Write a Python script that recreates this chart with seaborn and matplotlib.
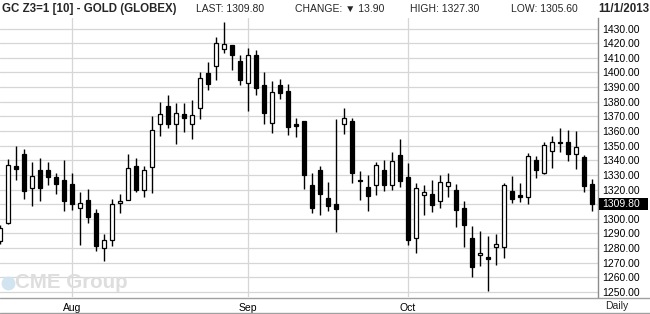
import numpy as np
import pandas as pd
import matplotlib
matplotlib.use("Agg")
import matplotlib.pyplot as plt
import matplotlib.transforms as mtransforms
from matplotlib.patches import Rectangle
from matplotlib.lines import Line2D
import seaborn as sns

# ---------------- data (GC Z3 daily, Jul 19 - Nov 1 2013) ----------------
dates = pd.bdate_range("2013-07-19", "2013-11-01")
dates = dates[dates != pd.Timestamp("2013-09-02")]  # Labor Day

opens = [1285.0, 1296.9, 1336.0, 1344.2, 1320.8, 1333.7, 1333.7, 1328.5, 1326.5, 1323.7,
         1307.1, 1312.8, 1303.9, 1280.3, 1285.3, 1310.5, 1313.2, 1335.8, 1319.4, 1335.1,
         1365.1, 1377.4, 1364.5, 1371.3, 1365.1, 1375.4, 1399.5, 1404.1, 1415.7, 1418.6,
         1407.7, 1393.1, 1411.8, 1391.3, 1365.8, 1391.3, 1387.2, 1364.5, 1366.7, 1323.0,
         1333.7, 1314.2, 1310.1, 1364.5, 1366.7, 1326.6, 1321.7, 1322.8, 1333.3, 1322.8,
         1343.5, 1328.5, 1286.6, 1316.0, 1317.3, 1311.9, 1322.4, 1319.4, 1307.1, 1286.6,
         1275.0, 1273.7, 1280.9, 1280.9, 1318.9, 1316.2, 1314.6, 1339.9, 1331.2, 1346.0,
         1352.8, 1352.8, 1344.0, 1342.2, 1323.7]
highs = [1296.0, 1340.6, 1349.7, 1347.6, 1338.5, 1341.5, 1339.0, 1331.0, 1340.1, 1331.2,
         1318.3, 1320.3, 1306.6, 1289.6, 1313.7, 1317.1, 1344.0, 1341.5, 1336.2, 1370.1,
         1379.7, 1384.3, 1379.0, 1379.0, 1381.5, 1400.0, 1406.8, 1424.1, 1434.3, 1418.8,
         1411.8, 1416.6, 1415.2, 1400.2, 1394.0, 1395.4, 1392.0, 1368.8, 1366.9, 1331.2,
         1336.2, 1325.1, 1368.1, 1375.6, 1368.8, 1332.6, 1329.9, 1338.7, 1340.1, 1345.6,
         1354.7, 1338.1, 1324.4, 1323.3, 1326.2, 1329.9, 1331.0, 1323.7, 1312.1, 1294.8,
         1291.9, 1288.2, 1289.6, 1324.4, 1329.2, 1324.6, 1344.9, 1342.8, 1352.4, 1356.5,
         1362.0, 1360.8, 1359.9, 1343.5, 1327.3]
lows = [1283.0, 1296.5, 1326.5, 1313.5, 1308.9, 1312.3, 1323.3, 1317.3, 1305.5, 1306.2,
        1282.3, 1296.9, 1278.2, 1271.4, 1281.6, 1304.1, 1313.0, 1318.0, 1315.1, 1317.8,
        1356.7, 1362.2, 1351.3, 1359.0, 1354.7, 1367.9, 1387.9, 1395.0, 1413.6, 1401.8,
        1391.5, 1374.0, 1384.7, 1364.9, 1358.8, 1382.0, 1357.4, 1356.0, 1320.5, 1304.1,
        1302.8, 1305.5, 1291.2, 1358.1, 1324.6, 1313.0, 1305.5, 1316.4, 1319.2, 1319.9,
        1321.9, 1282.3, 1277.0, 1302.3, 1304.8, 1307.6, 1315.1, 1294.6, 1280.9, 1260.0,
        1268.0, 1250.9, 1268.6, 1273.4, 1311.0, 1311.7, 1309.8, 1328.0, 1330.3, 1334.9,
        1345.8, 1339.6, 1334.2, 1318.5, 1305.6]
closes = [1294.0, 1337.1, 1334.2, 1319.2, 1329.6, 1321.2, 1328.7, 1323.9, 1312.3, 1310.3,
          1310.7, 1301.4, 1281.6, 1285.3, 1309.8, 1312.3, 1334.4, 1319.8, 1333.7, 1361.0,
          1371.3, 1365.1, 1372.6, 1369.2, 1370.6, 1395.9, 1392.4, 1420.4, 1419.1, 1412.0,
          1394.7, 1412.2, 1389.5, 1372.4, 1386.5, 1386.1, 1362.9, 1363.1, 1330.1, 1307.6,
          1317.1, 1308.9, 1306.9, 1369.2, 1331.5, 1326.0, 1315.8, 1336.5, 1323.3, 1339.4,
          1326.0, 1285.3, 1320.8, 1318.0, 1309.2, 1325.5, 1324.9, 1306.2, 1296.0, 1267.3,
          1276.6, 1272.7, 1282.5, 1322.8, 1313.7, 1315.1, 1342.6, 1333.5, 1350.1, 1352.8,
          1351.5, 1344.4, 1349.4, 1322.6, 1309.8]

month_labels = ["Aug", "Sep", "Oct"]
price_ticks = list(range(1250, 1431, 10))
last_price = 1309.80
header_left = "GC Z3=1 [10] - GOLD (GLOBEX)"
header_items = ["LAST: 1309.80", "CHANGE: \u25bc 13.90", "HIGH: 1327.30", "LOW: 1305.60"]
header_date = "11/1/2013"

# ---------------- style ----------------
sns.set_style("white")
plt.rcParams["font.family"] = ["Liberation Sans", "DejaVu Sans"]

df = pd.DataFrame({"date": dates, "open": opens, "high": highs,
                   "low": lows, "close": closes})
df["pos"] = np.arange(len(df))
df["up"] = df["close"] >= df["open"]
df["bottom"] = df[["open", "close"]].min(axis=1)
df["height"] = (df["close"] - df["open"]).abs().clip(lower=0.5)

W, H = 650, 314
fig = plt.figure(figsize=(W / 100, H / 100), dpi=100)
ax = fig.add_axes([0, 1 - 297 / H, 598 / W, (297 - 18) / H])

grid_c = "#d6d6d6"
# wicks
ax.vlines(df["pos"], df["low"], df["high"], color="black", lw=1.0, zorder=3)
# bodies
ax.bar(df["pos"], df["height"], bottom=df["bottom"], width=0.62,
       color=np.where(df["up"], "white", "black"), edgecolor="black",
       linewidth=0.9, zorder=4)

ax.set_xlim(0, 74.75)
ax.set_ylim(1246.6, 1437.2)

# month gridlines at first trading day of each month
first_pos = df.groupby(df["date"].dt.strftime("%b"))["pos"].min()
month_pos = [int(first_pos[m]) for m in month_labels]
ax.set_xticks(month_pos)
ax.set_xticklabels(month_labels)
ax.set_yticks(price_ticks)
ax.set_yticklabels(["" if t == 1310 else f"{t:.2f}" for t in price_ticks])
ax.yaxis.tick_right()
ax.tick_params(axis="y", length=0, pad=3, labelsize=7.5, colors="black")
ax.tick_params(axis="x", length=0, pad=4, labelsize=7.5, colors="black")
ax.grid(True, color=grid_c, lw=0.9, zorder=0)
ax.set_axisbelow(True)
for s in ["top", "left", "bottom"]:
    ax.spines[s].set_visible(False)
ax.spines["right"].set_color("#8c8c8c")
ax.spines["right"].set_linewidth(1.0)

# last price box
blend = mtransforms.blended_transform_factory(fig.transFigure, ax.transData)
ax.add_patch(Rectangle((599 / W, last_price - 4.1), 49 / W, 8.2, transform=blend,
                       facecolor="black", edgecolor="none", clip_on=False, zorder=5))
ax.text(602 / W, last_price, f"{last_price:.2f}", transform=blend, color="white",
        fontsize=7.5, va="center", ha="left", zorder=6)

# horizontal separators
fig.add_artist(Line2D([0, 1], [1 - 297.5 / H] * 2, transform=fig.transFigure,
                      color="#a0a0a0", lw=1.0))
fig.add_artist(Line2D([0, 1], [1 - 312.5 / H] * 2, transform=fig.transFigure,
                      color="#a0a0a0", lw=1.0))

# header
fig.text(2 / W, 1 - 9 / H, header_left, fontsize=8.3, fontweight="bold", va="center", ha="left")
for xpos, txt in zip([196, 295, 410, 511], header_items):
    fig.text(xpos / W, 1 - 9 / H, txt, fontsize=7.5, va="center", ha="left")
fig.text(649 / W, 1 - 9 / H, header_date, fontsize=8.3, fontweight="bold", va="center", ha="right")
fig.text(617 / W, 1 - 306 / H, "Daily", fontsize=7.5, va="center", ha="center")

# watermark
fig.add_artist(Line2D([8 / W], [1 - 283 / H], transform=fig.transFigure, marker="o",
                      markersize=10, markerfacecolor="#d3e4f1", markeredgecolor="none",
                      linestyle="none", zorder=1))
fig.text(15 / W, 1 - 283 / H, "CME Group", fontsize=14.8, fontweight="bold",
         color="#dedede", va="center", ha="left", zorder=1)

fig.savefig("out.png", dpi=100)
